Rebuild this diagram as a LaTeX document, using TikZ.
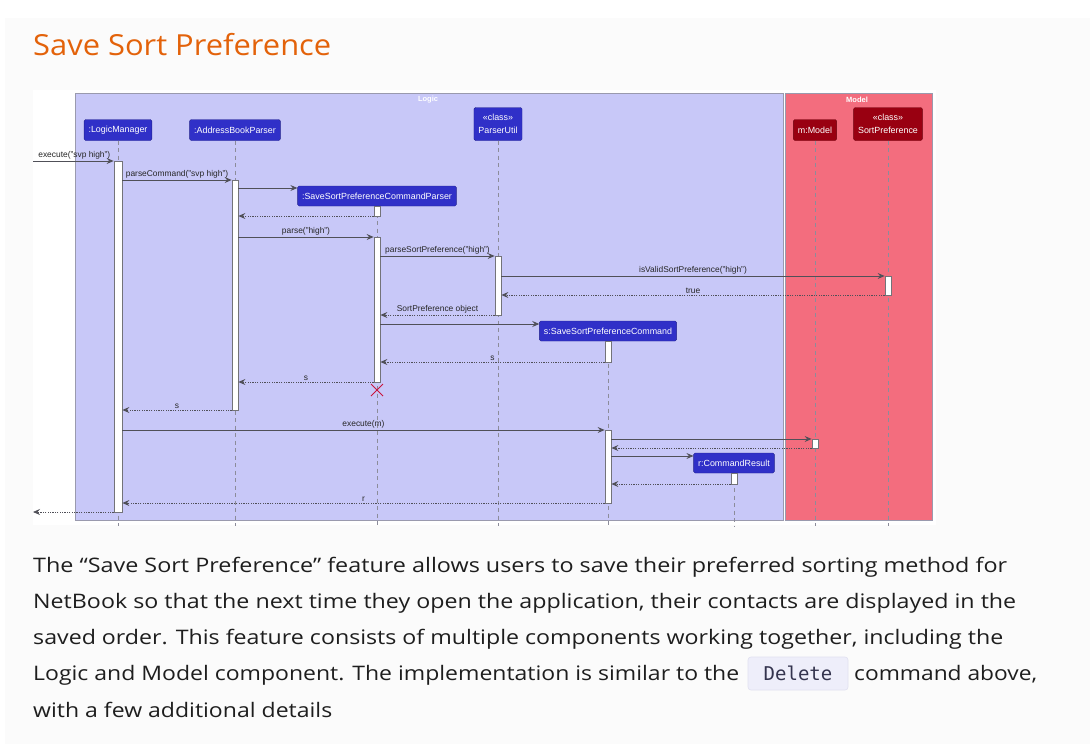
\documentclass[tikz,border=0pt]{standalone}
\usepackage{graphicx}
\usepackage{fontspec}
\setmainfont{Liberation Sans}
\newfontfamily\bodyfont{Open Sans}
\newfontfamily\codefont{DejaVu Sans Mono}
\usetikzlibrary{arrows.meta,fit}
\definecolor{pagebg}{HTML}{FBFBFB}
\definecolor{logicfill}{HTML}{C8C8F8}
\definecolor{modelfill}{HTML}{F36D7E}
\definecolor{partblue}{HTML}{3030C8}
\definecolor{partred}{HTML}{990011}
\definecolor{groupline}{HTML}{9A9AAE}
\definecolor{lifegray}{HTML}{8C8C9A}
\definecolor{msgcol}{HTML}{505058}
\definecolor{xred}{HTML}{C8143C}
\definecolor{titleorange}{HTML}{E3620A}
\definecolor{bodytext}{HTML}{1E1E1E}
\definecolor{codebg}{HTML}{EEEEFA}
\definecolor{codeline}{HTML}{E0E0F0}
\definecolor{codetext}{HTML}{34344E}
\newcommand{\fitw}[2]{\resizebox{#1pt}{\height}{#2}}
\begin{document}
\begin{tikzpicture}[x=1pt,y=-1pt,
  group/.style={draw=groupline, line width=0.8pt, inner sep=0pt},
  grouplabel/.style={text=white, font=\fontsize{7.5}{8}\selectfont\bfseries, inner sep=0pt},
  part/.style={fill=partblue, draw=partblue!70!black, line width=0.4pt, rounded corners=1.5pt, text=white,
    font=\fontsize{8.9}{11}\selectfont, minimum height=21pt, inner xsep=4.5pt, align=center},
  partm/.style={part, fill=partred, draw=partred!70!black},
  lifeline/.style={draw=lifegray, dash pattern=on 4pt off 3.5pt, line width=0.7pt},
  act/.style={draw=msgcol!80, fill=white, line width=0.8pt, inner sep=0pt},
  msg/.style={draw=msgcol, line width=0.8pt, -{Stealth[length=7pt,width=6pt,inset=2.5pt]}},
  ret/.style={draw=msgcol, line width=0.8pt, dash pattern=on 1.2pt off 1.2pt, -{Stealth[length=7pt,width=6pt,inset=2.5pt]}},
  lbl/.style={font=\fontsize{8.4}{10}\selectfont, text=black!85, inner sep=1.5pt, above},
  bodyline/.style={anchor=base west, inner sep=0pt, text=bodytext, font=\bodyfont\fontsize{20}{24}\selectfont}
]
\useasboundingbox (0,0) rectangle (1090,744);
\fill[white] (0,0) rectangle (1090,744);
\fill[pagebg] (5,18) rectangle (1090,744);

% title
\node (title) [anchor=base west, inner sep=0pt, text=titleorange, font=\bodyfont\fontsize{29}{34}\selectfont] at (33,56) {\fitw{298}{Save Sort Preference}};

% diagram canvas
\fill[white] (33,90) rectangle (936,525);
\node (logicbox) [group, fill=logicfill, fit={(75,93)(783,520)}] {};
\node (modelbox) [group, fill=modelfill, fit={(785,93)(932,520)}] {};
\node (logiclbl) [grouplabel] at (428,100) {Logic};
\node (modellbl) [grouplabel] at (857,100) {Model};

% participants
\node (lm)  [part] at (118,130) {:LogicManager};
\node (abp) [part] at (235,130) {:AddressBookParser};
\node (pu)  [part, minimum height=33pt, font=\fontsize{8.9}{12.5}\selectfont] at (498,124) {«class»\\ParserUtil};
\node (mm)  [partm] at (815,130) {m:Model};
\node (sp)  [partm, minimum height=33pt, font=\fontsize{8.9}{12.5}\selectfont] at (888,124) {«class»\\SortPreference};
\node (sspcp) [part, minimum height=20pt] at (377,196) {:SaveSortPreferenceCommandParser};
\node (sspc)  [part, minimum height=20pt] at (608,331) {s:SaveSortPreferenceCommand};
\node (cr)    [part, minimum height=20pt] at (734,463) {r:CommandResult};

% lifeline ends
\coordinate (lmEnd) at (118,526);
\coordinate (abpEnd) at (235,526);
\coordinate (puEnd) at (498,526);
\coordinate (mmEnd) at (815,526);
\coordinate (spEnd) at (888,526);
\coordinate (sspcpEnd) at (377,526);
\coordinate (sspcEnd) at (608,526);
\coordinate (crEnd) at (734,526);
\draw[lifeline] (lm.south) -- (lmEnd);
\draw[lifeline] (abp.south) -- (abpEnd);
\draw[lifeline] (pu.south) -- (puEnd);
\draw[lifeline] (mm.south) -- (mmEnd);
\draw[lifeline] (sp.south) -- (spEnd);
\draw[lifeline] (sspcp.south) -- (sspcpEnd);
\draw[lifeline] (sspc.south) -- (sspcEnd);
\draw[lifeline] (cr.south) -- (crEnd);

% activation bars
\node (aLM)   [act, fit={(114,161)(122,512)}] {};
\node (aABP)  [act, fit={(232,180)(238,410)}] {};
\node (aP1)   [act, fit={(374,206)(380,216)}] {};
\node (aP2)   [act, fit={(374,237)(380,382)}] {};
\node (aPU)   [act, fit={(495,256)(501,315)}] {};
\node (aSP)   [act, fit={(885,276)(891,295)}] {};
\node (aS1)   [act, fit={(605,341)(611,362)}] {};
\node (aS2)   [act, fit={(605,430)(611,503)}] {};
\node (aMM)   [act, fit={(812,439)(818,448)}] {};
\node (aCR)   [act, fit={(731,473)(737,484)}] {};

% external endpoints
\coordinate (extIn) at (33,161);
\coordinate (extOut) at (33,512);

% messages
\draw[msg] (extIn) -- node[lbl, xshift=1pt] {execute("svp high")} (aLM.west |- extIn);
\draw[msg] (aLM.east |- 0,180) -- node[lbl] {parseCommand("svp high")} (aABP.west |- 0,180);
\draw[msg] (aABP.east |- 0,188) -- (sspcp.west |- 0,188);
\draw[ret] (aP1.west |- 0,216) -- (aABP.east |- 0,216);
\draw[msg] (aABP.east |- 0,237) -- node[lbl] {parse("high")} (aP2.west |- 0,237);
\draw[msg] (aP2.east |- 0,256) -- node[lbl] {parseSortPreference("high")} (aPU.west |- 0,256);
\draw[msg] (aPU.east |- 0,276) -- node[lbl] {isValidSortPreference("high")} (aSP.west |- 0,276);
\draw[ret] (aSP.west |- 0,295) -- node[lbl] {true} (aPU.east |- 0,295);
\draw[ret] (aPU.west |- 0,315) -- node[lbl] {SortPreference object} (aP2.east |- 0,315);
\draw[msg] (aP2.east |- 0,324) -- (sspc.west |- 0,324);
\draw[ret] (aS1.west |- 0,362) -- node[lbl] {s} (aP2.east |- 0,362);
\draw[ret] (aP2.west |- 0,382) -- node[lbl] {s} (aABP.east |- 0,382);
\draw[ret] (aABP.west |- 0,410) -- node[lbl] {s} (aLM.east |- 0,410);
\draw[msg] (aLM.east |- 0,430) -- node[lbl] {execute(m)} (aS2.west |- 0,430);
\draw[msg] (aS2.east |- 0,439) -- (aMM.west |- 0,439);
\draw[ret] (aMM.west |- 0,448) -- (aS2.east |- 0,448);
\draw[msg] (aS2.east |- 0,456) -- (cr.west |- 0,456);
\draw[ret] (aCR.west |- 0,484) -- (aS2.east |- 0,484);
\draw[ret] (aS2.west |- 0,503) -- node[lbl] {r} (aLM.east |- 0,503);
\draw[ret] (aLM.west |- extOut) -- (extOut);

% destroy mark
\coordinate (xmark) at (377,390);
\draw[xred, line width=1pt] ([shift={(-6,-6)}]xmark) -- ([shift={(6,6)}]xmark)
  ([shift={(-6,6)}]xmark) -- ([shift={(6,-6)}]xmark);

% body text
\node (l1) [bodyline] at (33,572) {\fitw{974}{The “Save Sort Preference” feature allows users to save their preferred sorting method for}};
\node (l2) [bodyline] at (33,608) {\fitw{983}{NetBook so that the next time they open the application, their contacts are displayed in the}};
\node (l3) [bodyline] at (33,644) {\fitw{970}{saved order. This feature consists of multiple components working together, including the}};
\node (l4a) [bodyline] at (33,680) {\fitw{706}{Logic and Model component. The implementation is similar to the}};
\node (code) [fill=codebg, draw=codeline, line width=0.6pt, rounded corners=3pt, minimum width=100pt, minimum height=33pt, inner sep=0pt, text=codetext, font=\codefont\fontsize{19}{22}\selectfont] at (798,673.5) {Delete};
\node (l4b) [bodyline] at (854,680) {\fitw{183}{command above,}};
\node (l5) [bodyline] at (33,717) {\fitw{299}{with a few additional details}};
\end{tikzpicture}
\end{document}
